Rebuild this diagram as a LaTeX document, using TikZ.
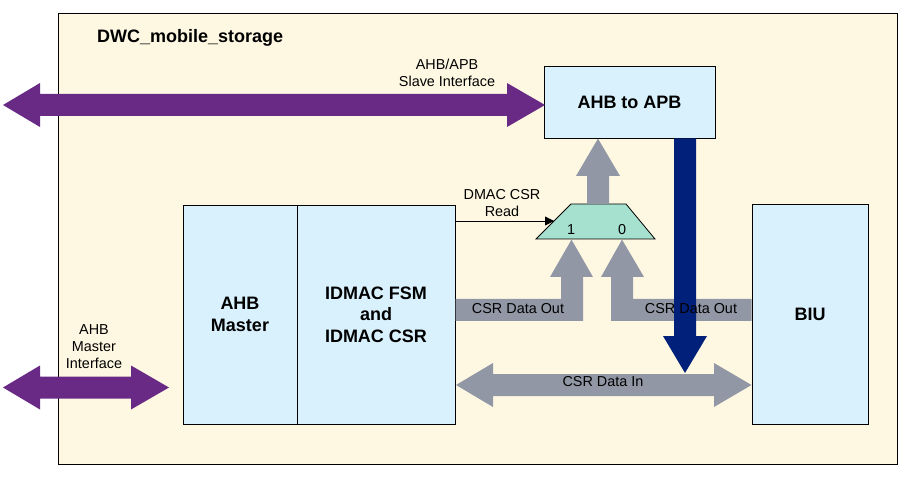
\documentclass[tikz,border=0pt]{standalone}
\usepackage{fontspec}
\setmainfont{Liberation Sans}
\usetikzlibrary{arrows.meta}
\definecolor{cream}{HTML}{FEF8E2}
\definecolor{lblue}{HTML}{D9F1FD}
\definecolor{purp}{HTML}{682A84}
\definecolor{slate}{HTML}{9297A5}
\definecolor{navy}{HTML}{00207A}
\definecolor{mint}{HTML}{A6E1CF}
\begin{document}
\begin{tikzpicture}[x=1pt,y=-1pt,
  blk/.style={draw=black,line width=0.9pt,fill=lblue,inner sep=0pt,align=center,
    font=\fontsize{18}{21.5}\selectfont\bfseries},
  lbl/.style={inner sep=0pt,align=center,font=\fontsize{14.4}{17}\selectfont},
  purpar/.style={fill=purp,draw=none},
  grayar/.style={fill=slate,draw=none},
  navyar/.style={fill=navy,draw=none}]
\useasboundingbox (0,0) rectangle (919,481);
% outer block
\node[draw=black,line width=0.9pt,fill=cream,minimum width=839pt,minimum height=451pt,inner sep=0pt] (outer) at (477.5,238.5) {};
\node[anchor=base west,inner sep=0pt,font=\fontsize{18}{21.5}\selectfont\bfseries] (title) at (97,43) {DWC\_mobile\_storage};
% blocks
\node[blk,minimum width=171pt,minimum height=72pt] (apb) at (629.5,102) {AHB to APB};
\node[blk,minimum width=114pt,minimum height=219pt] (mst) at (240,314.5) {AHB\\Master};
\node[blk,minimum width=158pt,minimum height=219pt] (fsm) at (376,314.5) {IDMAC FSM\\and\\IDMAC CSR};
\node[blk,minimum width=116pt,minimum height=220pt] (biu) at (810,314) {BIU};
% mux
\coordinate (muxTL) at (571,204);
\coordinate (muxTR) at (626,204);
\coordinate (muxBR) at (655,239);
\coordinate (muxBL) at (536,239);
\draw[fill=mint,line width=0.8pt] (muxTL) -- (muxTR) -- (muxBR) -- (muxBL) -- cycle;
\coordinate (mux) at (598,221);
% purple interfaces
\fill[purpar] (3,105) -- (40,83) -- (40,94) -- (507,94) -- (507,83) -- (545,105)
  -- (507,127) -- (507,116) -- (40,116) -- (40,127) -- cycle;
\node[lbl] (slv) at (447,72.5) {AHB/APB\\Slave Interface};
\fill[purpar] (3,387.5) -- (40,365.5) -- (40,376.5) -- (131,376.5) -- (131,365.5) -- (169,387.5)
  -- (131,409.5) -- (131,398.5) -- (40,398.5) -- (40,409.5) -- cycle;
\node[lbl] (mif) at (94,347) {AHB\\Master\\Interface};
% mux output to AHB to APB
\fill[grayar] (587,204.2) -- (587,176) -- (576,176) -- (598,138.6) -- (620,176) -- (609,176) -- (609,204.2) -- cycle;
% CSR Data Out (1) from IDMAC
\fill[grayar] (455.5,299) -- (561,299) -- (561,277) -- (550,277) -- (571.5,239.6) -- (593,277)
  -- (583,277) -- (583,321) -- (455.5,321) -- cycle;
\node[lbl] (do1) at (518,309) {CSR Data Out};
% CSR Data Out (0) from BIU
\fill[grayar] (751.5,299) -- (633,299) -- (633,277) -- (644,277) -- (622,239.6) -- (601,277)
  -- (611,277) -- (611,321) -- (751.5,321) -- cycle;
% CSR Data In
\fill[grayar] (456,385) -- (493,363) -- (493,374) -- (714,374) -- (714,363) -- (751.5,385)
  -- (714,407) -- (714,396) -- (493,396) -- (493,407) -- cycle;
\node[lbl] (din) at (603,382) {CSR Data In};
% navy arrow from AHB to APB down to CSR Data In
\fill[navyar] (674,138.5) -- (696,138.5) -- (696,336) -- (707,336) -- (685,373) -- (663,336) -- (674,336) -- cycle;
\node[lbl] (do0) at (691,309) {CSR Data Out};
% mux select
\node[lbl] (in1) at (571,230) {1};
\node[lbl] (in0) at (622,230) {0};
\coordinate (selA) at (fsm.east |- mux);
\coordinate (selB) at (554,221);
\draw[line width=0.8pt,-{Triangle[length=9pt,width=9pt]}] (selA) -- (selB);
\node[lbl] (rd) at (502,203.5) {DMAC CSR\\Read};
\end{tikzpicture}
\end{document}
